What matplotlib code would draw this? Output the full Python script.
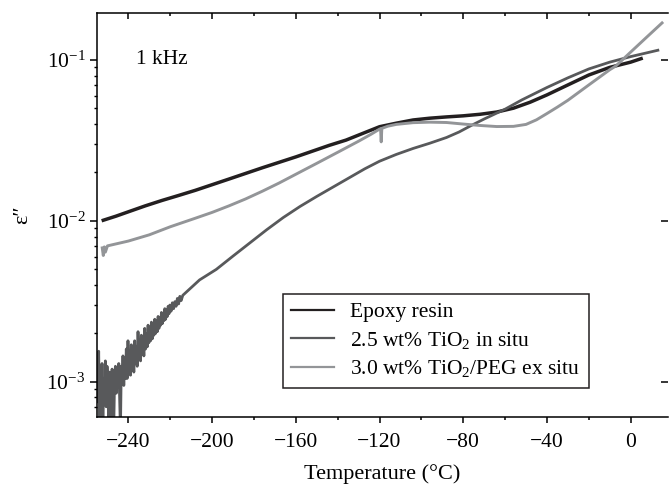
import matplotlib
matplotlib.use('Agg')
import matplotlib.pyplot as plt
import matplotlib.ticker as mticker

plt.rcParams['font.family'] = ['Liberation Serif', 'DejaVu Serif']
plt.rcParams['mathtext.fontset'] = 'custom'
plt.rcParams['mathtext.rm'] = 'Liberation Serif'
plt.rcParams['mathtext.it'] = 'Liberation Serif:italic'
plt.rcParams['mathtext.bf'] = 'Liberation Serif:bold'

# Epoxy resin (black)
t_epoxy = [-252, -246, -240, -232, -224, -216, -208, -192, -176, -160, -144,
           -136, -128, -120, -112, -104, -96, -88, -80, -72, -64, -56, -48,
           -40, -30, -20, -10, 0, 5]
e_epoxy = [0.0101, 0.0107, 0.0114, 0.0124, 0.0134, 0.0144, 0.0155, 0.0182,
           0.0214, 0.0250, 0.0295, 0.0318, 0.0350, 0.0385, 0.0405, 0.0424,
           0.0435, 0.0443, 0.0450, 0.0460, 0.0475, 0.0502, 0.0547, 0.0607,
           0.0700, 0.0807, 0.0900, 0.0970, 0.1020]

# 2.5 wt% TiO2 in situ (dark gray) - noisy below about -215 C
t_insitu = [-255.0, -254.6, -254.2, -253.8, -253.4, -253.0, -252.6, -252.2,
            -251.8, -251.4, -251.0, -250.6, -250.2, -249.8, -249.4, -249.0,
            -248.6, -248.2, -247.8, -247.4, -247.0, -246.6, -246.2, -245.8,
            -245.4, -245.0, -244.6, -244.2, -243.8, -243.4, -243.0, -242.6,
            -242.2, -241.8, -241.4, -241.0, -240.6, -240.2, -239.8, -239.4,
            -239.0, -238.6, -238.2, -237.8, -237.4, -237.0, -236.6, -236.2,
            -235.8, -235.4, -235.0, -234.6, -234.2, -233.8, -233.4, -233.0,
            -232.6, -232.2, -231.8, -231.4, -231.0, -230.6, -230.2, -229.8,
            -229.4, -229.0, -228.6, -228.2, -227.8, -227.4, -227.0, -226.6,
            -226.2, -225.8, -225.4, -225.0, -224.6, -224.2, -223.8, -223.4,
            -223.0, -222.6, -222.2, -221.8, -221.4, -221.0, -220.6, -220.2,
            -219.6, -219.0, -218.4, -217.8, -217.2, -216.6, -216.0, -215.4,
            -214.8, -214.0, -210, -206, -198, -190, -182, -174, -166, -158,
            -150, -142, -134, -127, -120, -112, -104, -96, -88, -82, -76, -70,
            -64, -60, -52, -40, -30, -20, -10, 0, 8, 13]
e_insitu = [1.40e-3, 0.75e-3, 1.55e-3, 0.60e-3, 1.20e-3, 0.90e-3, 1.30e-3,
            0.50e-3, 1.05e-3, 0.80e-3, 1.35e-3, 0.70e-3, 1.25e-3, 0.95e-3,
            0.55e-3, 1.15e-3, 0.85e-3, 0.50e-3, 1.20e-3, 0.90e-3, 0.52e-3,
            1.05e-3, 1.25e-3, 0.85e-3, 1.20e-3, 0.95e-3, 1.30e-3, 0.80e-3,
            0.50e-3, 1.25e-3, 1.00e-3, 1.45e-3, 0.95e-3, 1.35e-3, 1.05e-3,
            1.60e-3, 1.05e-3, 1.80e-3, 1.20e-3, 1.50e-3, 1.10e-3, 1.70e-3,
            1.20e-3, 1.55e-3, 1.15e-3, 1.80e-3, 1.30e-3, 1.65e-3, 1.25e-3,
            2.05e-3, 1.40e-3, 1.75e-3, 1.35e-3, 1.95e-3, 1.50e-3, 1.85e-3,
            1.45e-3, 2.15e-3, 1.60e-3, 2.00e-3, 1.65e-3, 2.25e-3, 1.75e-3,
            2.15e-3, 1.80e-3, 2.35e-3, 1.85e-3, 2.25e-3, 1.95e-3, 2.45e-3,
            2.00e-3, 2.40e-3, 2.05e-3, 2.55e-3, 2.15e-3, 2.50e-3, 2.25e-3,
            2.70e-3, 2.30e-3, 2.65e-3, 2.40e-3, 2.85e-3, 2.45e-3, 2.80e-3,
            2.55e-3, 2.95e-3, 2.65e-3, 3.00e-3, 2.75e-3, 3.10e-3, 2.85e-3,
            3.15e-3, 2.95e-3, 3.30e-3, 3.05e-3, 3.40e-3, 3.20e-3, 3.45e-3,
            3.85e-3, 4.30e-3, 5.00e-3, 6.05e-3, 7.30e-3, 8.80e-3, 0.0105,
            0.0123, 0.0142, 0.0163, 0.0187, 0.0211, 0.0235, 0.0259, 0.0282,
            0.0304, 0.0330, 0.0357, 0.0393, 0.0430, 0.0468, 0.0495, 0.0565,
            0.0675, 0.0775, 0.0880, 0.0970, 0.1050, 0.1110, 0.1150]

# 3.0 wt% TiO2/PEG ex situ (light gray)
t_exsitu = [-252.5, -252, -251.5, -251, -250, -240, -230, -220, -208, -200,
            -192, -184, -176, -168, -160, -150, -140, -130, -124, -120,
            -119.5, -119.2, -118.9, -116, -112, -104, -96, -88, -80, -72, -64,
            -56, -50, -45, -40, -35, -30, -20, -10, -7, 0, 8, 15]
e_exsitu = [0.0068, 0.0061, 0.0069, 0.0064, 0.0070, 0.0075, 0.0082, 0.0092,
            0.0104, 0.0113, 0.0124, 0.0137, 0.0153, 0.0172, 0.0195, 0.0228,
            0.0267, 0.0313, 0.0346, 0.0372, 0.0374, 0.0310, 0.0376, 0.0388,
            0.0398, 0.0408, 0.0411, 0.0409, 0.0400, 0.0392, 0.0386, 0.0387,
            0.0398, 0.0425, 0.0465, 0.0510, 0.0562, 0.0700, 0.0870, 0.0920,
            0.1120, 0.1400, 0.1700]

labels = ['Epoxy resin', '2.5 wt% TiO$_2$ in situ', '3.0 wt% TiO$_2$/PEG ex situ']
colors = ['#231f20', '#58595b', '#939598']

fig = plt.figure(figsize=(6.69, 4.9), dpi=100)
ax = fig.add_axes([0.145, 0.149, 0.854, 0.8245])

ax.plot(t_epoxy, e_epoxy, color=colors[0], lw=2.5, label=labels[0])
ax.plot(t_insitu, e_insitu, color=colors[1], lw=2.0, label=labels[1])
ax.plot(t_exsitu, e_exsitu, color=colors[2], lw=2.1, label=labels[2])

ax.set_yscale('log')
ax.set_xlim(-255, 18)
ax.set_ylim(6.05e-4, 0.196)

ax.xaxis.set_major_locator(mticker.MultipleLocator(40))
ax.xaxis.set_minor_locator(mticker.MultipleLocator(20))
ax.yaxis.set_major_locator(mticker.LogLocator(base=10, numticks=10))
ax.yaxis.set_minor_locator(mticker.LogLocator(base=10, subs=range(2, 10), numticks=20))
ax.yaxis.set_minor_formatter(mticker.NullFormatter())

ax.spines['right'].set_visible(False)
for s in ['left', 'bottom', 'top']:
    ax.spines[s].set_linewidth(1.1)

ax.tick_params(axis='x', which='both', bottom=True, top=True, labelsize=15.5,
               width=1.1, pad=7)
ax.tick_params(axis='x', which='major', direction='out', length=4.2)
ax.tick_params(axis='x', which='minor', direction='out', length=2.3)
ax.tick_params(axis='y', which='major', left=True, right=True, direction='out',
               length=4.8, width=1.1, labelsize=15.5)
ax.tick_params(axis='y', which='minor', left=True, right=False, direction='out',
               length=2.5, width=1.0)

# top ticks point inward, right ticks inward (major only)
for tk in ax.xaxis.get_major_ticks() + ax.xaxis.get_minor_ticks():
    tk.tick2line.set_marker(3)
for tk in ax.yaxis.get_major_ticks():
    tk.tick2line.set_marker(0)

ax.set_xlabel('Temperature (°C)', fontsize=16, labelpad=9)
ax.set_ylabel('ε″', fontsize=16, labelpad=10)
ax.text(0.068, 0.884, '1 kHz', transform=ax.transAxes, fontsize=15.5,
        va='center', ha='left')

leg = ax.legend(loc='lower left', bbox_to_anchor=(0.325, 0.072), fontsize=15.5,
                frameon=True, fancybox=False, edgecolor='#231f20',
                framealpha=1, borderpad=0.4, handlelength=2.0,
                handletextpad=0.75, labelspacing=0.35, borderaxespad=0)
leg.get_frame().set_linewidth(1.1)
for line in leg.get_lines():
    line.set_linewidth(1.6)

fig.savefig('out.png', dpi=100)
